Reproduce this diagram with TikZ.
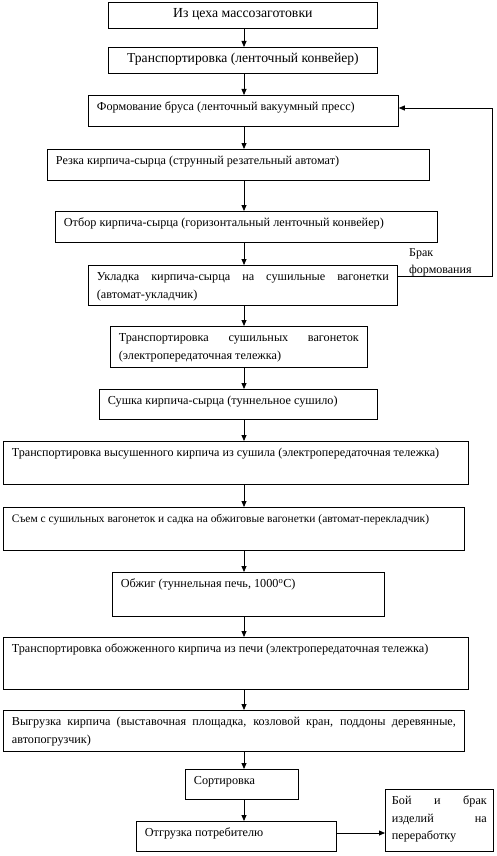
\documentclass[tikz,border=0pt]{standalone}
\usepackage{fontspec}
\setmainfont{Liberation Serif}
\usetikzlibrary{arrows.meta}
\newcommand\AL{\leftskip=8.5pt\rightskip=8.5pt plus 1fil\relax}
\newcommand\AC{\leftskip=8.5pt plus 1fil\rightskip=8.5pt plus 1fil\parfillskip=0pt\relax}
\newcommand\AJ{\leftskip=8.5pt\rightskip=8.5pt\relax}
\newcommand\AJs{\leftskip=6.5pt\rightskip=6.5pt\relax}
\newcommand\fs[1]{\fontsize{#1}{18}\selectfont}
% name, x, y, w, h, alignment, text
\newcommand\flowbox[7]{%
  \node[flow, anchor=north west] (#1) at (#2pt,-#3pt)
    {\parbox[c][#5pt][t]{#4pt}{#6\tolerance=10000\hbadness=10000\rule{0pt}{15.5pt}#7\par}};}
\begin{document}
\begin{tikzpicture}[
  font=\fontsize{12.2}{18}\selectfont,
  flow/.style={draw, line width=0.8pt, inner sep=0pt},
  arr/.style={line width=0.8pt, -{Triangle[length=6pt,width=5pt]}}]
\useasboundingbox (0,0) rectangle (496pt,-856pt);
\flowbox{b1}{108}{2}{269}{26}{\AC\fs{13.8}}{Из цеха массозаготовки}
\flowbox{b2}{108}{47}{269}{26}{\AC\fs{13.6}}{Транспортировка (ленточный конвейер)}
\flowbox{b3}{88}{95}{310}{31}{\AL}{Формование бруса (ленточный вакуумный пресс)}
\flowbox{b4}{47}{149}{382}{31}{\AL}{Резка кирпича-сырца (струнный резательный автомат)}
\flowbox{b5}{55}{211}{382}{31}{\AL}{Отбор кирпича-сырца (горизонтальный ленточный конвейер)}
\flowbox{b6}{88}{265}{309}{40}{\AJ}{Укладка кирпича-сырца на сушильные вагонетки\linebreak (автомат-укладчик)}
\flowbox{b7}{110}{326}{257}{41}{\AJ}{Транспортировка сушильных вагонеток\linebreak (электропередаточная тележка)}
\flowbox{b8}{99}{389}{278}{30}{\AL}{Сушка кирпича-сырца (туннельное сушило)}
\flowbox{b9}{3}{441}{465}{43}{\AL\fs{12.1}}{Транспортировка высушенного кирпича из сушила (электропередаточная тележка)}
\flowbox{b10}{3}{507}{461}{43}{\AL\fs{11.45}}{Съем с сушильных вагонеток и садка на обжиговые вагонетки (автомат-перекладчик)}
\flowbox{b11}{112}{572}{272}{44}{\AL}{Обжиг (туннельная печь, 1000\textsuperscript{o}С)}
\flowbox{b12}{3}{637}{465}{52}{\AL}{Транспортировка обожженного кирпича из печи (электропередаточная тележка)}
\flowbox{b13}{3}{710}{461}{41}{\AJ}{Выгрузка кирпича (выставочная площадка, козловой кран, поддоны деревянные,\linebreak автопогрузчик)}
\flowbox{b14}{185}{769}{113}{30}{\AL}{Сортировка}
\flowbox{b15}{136}{821}{200}{30}{\AL}{Отгрузка потребителю}
\flowbox{b16}{385}{789}{108}{62}{\AJs\fontsize{12.2}{17.5}\selectfont}{Бой и брак\linebreak изделий на\linebreak переработку}
\node[inner sep=0pt, anchor=north west] (lbl) at (409pt,-241pt)
  {\fontsize{12}{17}\selectfont\parbox[t]{80pt}{\rule{0pt}{15.5pt}Брак\\формования}};
\coordinate (ax) at (244pt,0);
\foreach \a/\b in {b1/b2,b2/b3,b3/b4,b4/b5,b5/b6,b6/b7,b7/b8,b8/b9,b9/b10,b10/b11,b11/b12,b12/b13,b13/b14,b14/b15}
  \draw[arr] (\a.south -| ax) -- (\b.north -| ax);
\coordinate (loopTop) at (492pt,-108pt);
\coordinate (loopBot) at (492pt,-276pt);
\draw[arr] (b6.east |- loopBot) -- (loopBot) -- (loopTop) -- (b3.east |- loopTop);
\coordinate (side) at (0,-833pt);
\draw[arr] (b15.east |- side) -- (b16.west |- side);
\end{tikzpicture}
\end{document}
